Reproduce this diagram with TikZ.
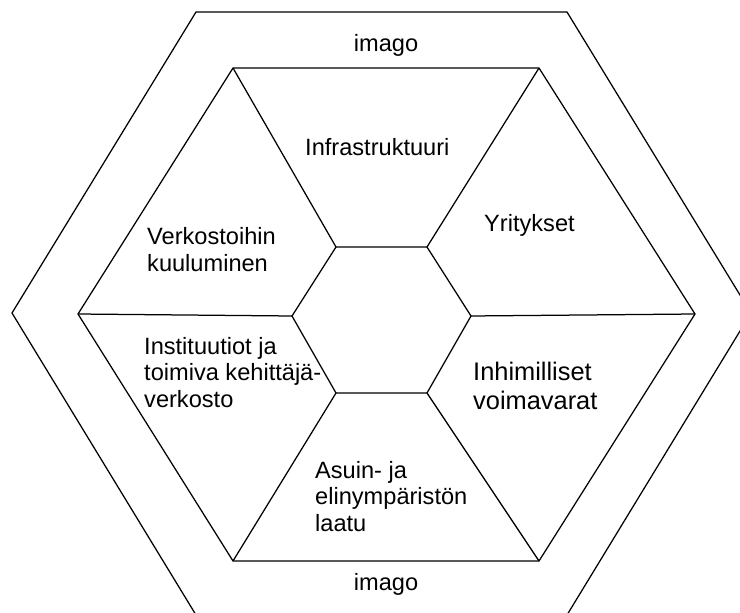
\documentclass[tikz,border=0pt]{standalone}
\usepackage{fontspec}
\setmainfont{Liberation Sans}
\begin{document}
\begin{tikzpicture}[x=1pt,y=-1pt,
  edge/.style={draw=black,line width=1.25pt,line join=miter},
  lbl/.style={inner sep=0pt,anchor=base west,align=left,font=\fontsize{23.6}{26.3}\selectfont},
  biglbl/.style={inner sep=0pt,anchor=base west,align=left,font=\fontsize{25.4}{29}\selectfont},
  ctr/.style={inner sep=0pt,anchor=base,font=\fontsize{23.6}{26.3}\selectfont}]
\useasboundingbox (0,0) rectangle (740,613);
\clip (0,0) rectangle (740,613);
\fill[white] (0,0) rectangle (740,613);
% outer hexagon
\coordinate (O1) at (196,12);
\coordinate (O2) at (567,12);
\coordinate (O3) at (751,313);
\coordinate (O4) at (567,615);
\coordinate (O5) at (196,615);
\coordinate (O6) at (12,313);
% inner hexagon
\coordinate (A1) at (233,68);
\coordinate (A2) at (539,68);
\coordinate (A3) at (695,314);
\coordinate (A4) at (539,561);
\coordinate (A5) at (233,561);
\coordinate (A6) at (78,314);
% central hexagon
\coordinate (B1) at (336,247);
\coordinate (B2) at (427,247);
\coordinate (B3) at (471,316);
\coordinate (B4) at (427,393);
\coordinate (B5) at (336,393);
\coordinate (B6) at (292,316);
\draw[edge] (O1) -- (O2) -- (O3) -- (O4) -- (O5) -- (O6) -- cycle;
\draw[edge] (A1) -- (A2) -- (A3) -- (A4) -- (A5) -- (A6) -- cycle;
\draw[edge] (B1) -- (B2) -- (B3) -- (B4) -- (B5) -- (B6) -- cycle;
\draw[edge] (A1) -- (B1);
\draw[edge] (A2) -- (B2);
\draw[edge] (A3) -- (B3);
\draw[edge] (A4) -- (B4);
\draw[edge] (A5) -- (B5);
\draw[edge] (A6) -- (B6);
% labels (anchor = baseline of last line)
\node[ctr] (imagotop) at (386,51.5) {imago};
\node[ctr] (imagobot) at (386,590) {imago};
\node[lbl] (infra) at (305,155.5) {Infrastruktuuri};
\node[lbl] (yrit) at (484,231.5) {Yritykset};
\node[lbl] (verk) at (147,271) {Verkostoihin\\kuuluminen};
\node[lbl] (inst) at (144,407) {Instituutiot ja\\toimiva kehittäjä-\\verkosto};
\node[biglbl] (inhim) at (473,409) {Inhimilliset\\voimavarat};
\node[lbl] (asuin) at (315,531) {Asuin- ja\\elinympäristön\\laatu};
\end{tikzpicture}
\end{document}
